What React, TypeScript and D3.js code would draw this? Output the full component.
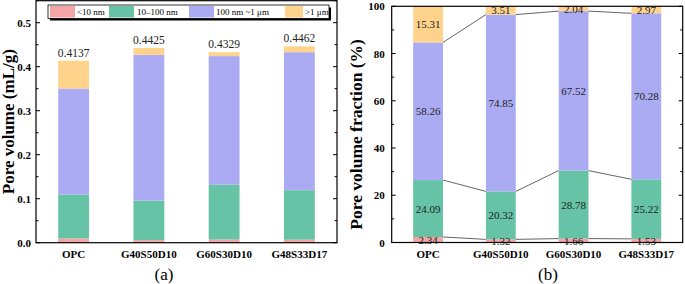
import React from "react";
import * as d3 from "d3";

const categories = ["OPC", "G40S50D10", "G60S30D10", "G48S33D17"];
const seriesNames = ["<10 nm", "10\u2013100 nm", "100 nm ~1 \u03bcm", ">1 \u03bcm"];
const colors = ["#F4A5A5", "#66C3A5", "#ABABF3", "#FFD38C"];

// Pore volume (mL/g) per size range
const volSmall = [0.0097, 0.0058, 0.0072, 0.0068];
const volMid = [0.0997, 0.0899, 0.1246, 0.1125];
const volLarge = [0.241, 0.3312, 0.2923, 0.3136];
const volHuge = [0.0633, 0.0155, 0.0088, 0.0133];
const totals = ["0.4137", "0.4425", "0.4329", "0.4462"];

// Pore volume fraction (%)
const fracSmall = [2.34, 1.32, 1.66, 1.53];
const fracMid = [24.09, 20.32, 28.78, 25.22];
const fracLarge = [58.26, 74.85, 67.52, 70.28];
const fracHuge = [15.31, 3.51, 2.04, 2.97];

const leftTicks = [0, 0.1, 0.2, 0.3, 0.4, 0.5];
const rightTicks = [0, 20, 40, 60, 80, 100];

const FONT = "'Liberation Serif', 'Times New Roman', serif";

function stackOf(rows: number[][]) {
  return categories.map((_, i) => {
    let acc = 0;
    return rows.map((r) => {
      const y0 = acc;
      acc += r[i];
      return [y0, acc];
    });
  });
}

export default function App() {
  const W = 685, H = 284;

  // Left panel
  const L = { x0: 36, x1: 337, y0: 242.7, y1: 0.7 };
  const xL = d3.scaleBand().domain(categories).range([L.x0, L.x1]).paddingInner(0.59).paddingOuter(0.295);
  const yL = d3.scaleLinear().domain([0, 0.55]).range([L.y0, L.y1]);
  const stackL = stackOf([volSmall, volMid, volLarge, volHuge]);

  // Right panel
  const R = { x0: 391.7, x1: 682.7, y0: 242.5, y1: 6.3 };
  const xR = d3.scaleBand().domain(categories).range([R.x0, R.x1]).paddingInner(0.59).paddingOuter(0.295);
  const yR = d3.scaleLinear().domain([0, 100]).range([R.y0, R.y1]);
  const fracRows = [fracSmall, fracMid, fracLarge, fracHuge];
  const stackR = stackOf(fracRows);

  const minorL = d3.range(0, 0.551, 0.05);
  const minorR = d3.range(0, 100.1, 10);

  const legendItems = [
    { sx: 50, tx: 77 },
    { sx: 109, tx: 137 },
    { sx: 189, tx: 216 },
    { sx: 285, tx: 305 },
  ];

  return (
    <div style={{ position: "absolute", left: 0, top: 0 }}>
      <svg width={W} height={H} style={{ display: "block", background: "#fff" }} fontFamily={FONT}>
        {/* ===== Left panel ===== */}
        {stackL.map((segs, i) =>
          segs.map((s, k) => (
            <rect
              key={`l${i}-${k}`}
              x={xL(categories[i])}
              width={xL.bandwidth()}
              y={yL(s[1])}
              height={yL(s[0]) - yL(s[1])}
              fill={colors[k]}
            />
          ))
        )}
        {categories.map((c, i) => (
          <text key={`tot${i}`} x={xL(c)! + xL.bandwidth() / 2} y={yL(stackL[i][3][1]) - 4} fontSize={11.5} textAnchor="middle" fill="#222">
            {totals[i]}
          </text>
        ))}
        {/* ticks */}
        {minorL.map((v, i) => {
          const major = Math.abs(v * 10 - Math.round(v * 10)) < 1e-6;
          const len = major ? 4 : 2.5;
          return (
            <g key={`tl${i}`} stroke="#000" strokeWidth={1}>
              <line x1={L.x0} x2={L.x0 + len} y1={yL(v)} y2={yL(v)} />
              <line x1={L.x1} x2={L.x1 - len} y1={yL(v)} y2={yL(v)} />
            </g>
          );
        })}
        {leftTicks.map((v) => (
          <text key={`ll${v}`} x={L.x0 - 5} y={yL(v) + 4} fontSize={11} fontWeight="bold" textAnchor="end">
            {v.toFixed(1)}
          </text>
        ))}
        <rect x={L.x0} y={L.y1} width={L.x1 - L.x0} height={L.y0 - L.y1} fill="none" stroke="#000" strokeWidth={1.2} />
        {categories.map((c) => (
          <text key={`xl${c}`} x={xL(c)! + xL.bandwidth() / 2} y={258} fontSize={11} fontWeight="bold" textAnchor="middle">
            {c}
          </text>
        ))}
        <text transform={`translate(14, ${(L.y0 + L.y1) / 2}) rotate(-90)`} fontSize={17} fontWeight="bold" textAnchor="middle">
          Pore volume (mL/g)
        </text>
        <text x={164} y={280} fontSize={17} textAnchor="middle">(a)</text>

        {/* legend */}
        <rect x={50} y={7.5} width={281} height={13} fill="#000" />
        <rect x={48} y={5} width={281} height={13.5} fill="#fff" stroke="#000" strokeWidth={0.8} />
        {seriesNames.map((n, k) => (
          <g key={`lg${k}`}>
            <rect x={legendItems[k].sx} y={6} width={k === 3 ? 18 : 25} height={11.5} fill={colors[k]} />
            <text x={legendItems[k].tx} y={15.3} fontSize={9}>{n}</text>
          </g>
        ))}

        {/* ===== Right panel ===== */}
        {stackR.map((segs, i) =>
          segs.map((s, k) => (
            <rect
              key={`r${i}-${k}`}
              x={xR(categories[i])}
              width={xR.bandwidth()}
              y={yR(s[1])}
              height={yR(s[0]) - yR(s[1])}
              fill={colors[k]}
            />
          ))
        )}
        {/* connector lines */}
        {[0, 1, 2].map((k) =>
          categories.slice(0, -1).map((c, i) => (
            <line
              key={`cn${k}-${i}`}
              x1={xR(c)! + xR.bandwidth()}
              y1={yR(stackR[i][k][1])}
              x2={xR(categories[i + 1])!}
              y2={yR(stackR[i + 1][k][1])}
              stroke="#555"
              strokeWidth={0.9}
            />
          ))
        )}
        {stackR.map((segs, i) =>
          segs.map((s, k) => (
            <text
              key={`rl${i}-${k}`}
              x={xR(categories[i])! + xR.bandwidth() / 2}
              y={yR((s[0] + s[1]) / 2) + 4}
              fontSize={11}
              textAnchor="middle"
              fill="#222"
            >
              {fracRows[k][i].toFixed(2)}
            </text>
          ))
        )}
        {minorR.map((v, i) => {
          const major = Math.round(v) % 20 === 0;
          const len = major ? 4 : 2.5;
          return (
            <g key={`tr${i}`} stroke="#000" strokeWidth={1}>
              <line x1={R.x0} x2={R.x0 + len} y1={yR(v)} y2={yR(v)} />
              <line x1={R.x1} x2={R.x1 - len} y1={yR(v)} y2={yR(v)} />
            </g>
          );
        })}
        {rightTicks.map((v) => (
          <text key={`rr${v}`} x={R.x0 - 7} y={yR(v) + 4} fontSize={11} fontWeight="bold" textAnchor="end">
            {v}
          </text>
        ))}
        <rect x={R.x0} y={R.y1} width={R.x1 - R.x0} height={R.y0 - R.y1} fill="none" stroke="#000" strokeWidth={1.2} />
        {categories.map((c) => (
          <text key={`xr${c}`} x={xR(c)! + xR.bandwidth() / 2} y={258} fontSize={11} fontWeight="bold" textAnchor="middle">
            {c}
          </text>
        ))}
        <text transform={`translate(362, ${(R.y0 + R.y1) / 2 + 10}) rotate(-90)`} fontSize={17.5} fontWeight="bold" textAnchor="middle">
          Pore volume fraction (%)
        </text>
        <text x={548} y={280} fontSize={17} textAnchor="middle">(b)</text>
      </svg>
    </div>
  );
}
